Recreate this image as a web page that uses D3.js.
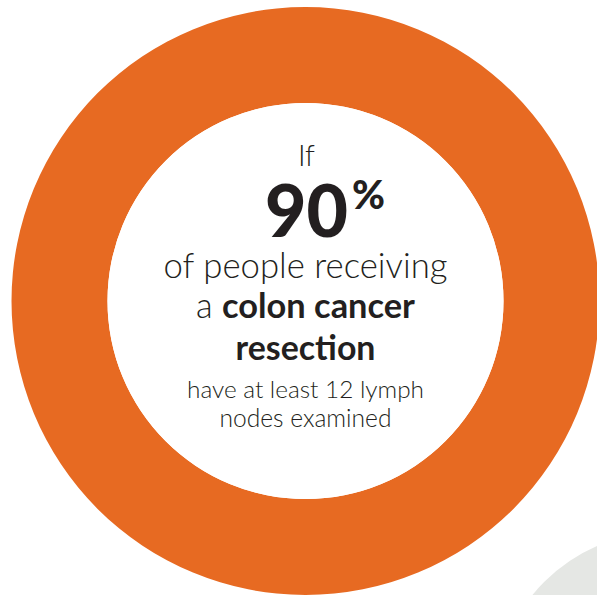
<!DOCTYPE html>
<html><head><meta charset="utf-8">
<script src="https://cdn.jsdelivr.net/npm/d3@7"></script>
<style>html,body{margin:0;padding:0;background:#fff;}svg{display:block;}</style>
</head><body>
<svg id="c" width="597" height="595"></svg>
<script>
const ringShares = [100];
const percentValue = 90;
const introText = "If";
const line1 = "of people receiving";
const line2Light = "a ";
const line2Bold = "colon cancer";
const line3Bold = "resection";
const line4 = "have at least 12 lymph";
const line5 = "nodes examined";

const svg = d3.select("#c");
const cx = 305.5, cy = 301;
const outerR = 294, innerR = 198;

// decorative gray circle bottom right
svg.append("circle").attr("cx", 665).attr("cy", 703).attr("r", 171).attr("fill", "#e5e7e4");

const pie = d3.pie().sort(null)(ringShares);
const arc = d3.arc().innerRadius(innerR).outerRadius(outerR);
const g = svg.append("g").attr("transform", `translate(${cx},${cy})`);
g.selectAll("path").data(pie).join("path").attr("d", arc).attr("fill", "#e76a22");
g.append("circle").attr("r", innerR).attr("fill", "#fff");

const txt = "#231f20";
const font = "Lato, 'Open Sans', sans-serif";
function fitText(sel, w) {
  const n = sel.node();
  const cur = n.getComputedTextLength();
  const fs = parseFloat(sel.attr("font-size"));
  sel.attr("font-size", fs * w / cur);
}

svg.append("text").attr("x", 306.5).attr("y", 166).attr("text-anchor", "middle")
  .attr("font-family", font).attr("font-weight", 300).attr("font-size", 29).attr("fill", txt).text(introText);

const big = svg.append("text").attr("x", 265).attr("y", 237).attr("font-family", font).attr("fill", txt)
  .attr("font-weight", 900).attr("font-size", 76).text(percentValue);
fitText(big, 83);
const pct = svg.append("text").attr("x", 352).attr("y", 209).attr("font-family", font).attr("fill", txt)
  .attr("font-weight", 900).attr("font-size", 44).text("%");
fitText(pct, 33);

const t1 = svg.append("text").attr("x", cx).attr("y", 278).attr("text-anchor", "middle")
  .attr("font-family", font).attr("font-weight", 300).attr("font-size", 34).attr("fill", txt).text(line1);
fitText(t1, 284);

const t2 = svg.append("text").attr("x", cx).attr("y", 318).attr("text-anchor", "middle")
  .attr("font-family", font).attr("font-size", 32).attr("fill", txt);
t2.append("tspan").attr("font-weight", 300).text(line2Light);
t2.append("tspan").attr("font-weight", 700).text(line2Bold);
fitText(t2, 219);

const t3 = svg.append("text").attr("x", cx).attr("y", 360).attr("text-anchor", "middle")
  .attr("font-family", font).attr("font-weight", 700).attr("font-size", 32).attr("fill", txt).text(line3Bold);
fitText(t3, 140);

const t4 = svg.append("text").attr("x", cx).attr("y", 398).attr("text-anchor", "middle")
  .attr("font-family", font).attr("font-weight", 300).attr("font-size", 24).attr("fill", txt).text(line4);
fitText(t4, 237);

const t5 = svg.append("text").attr("x", cx).attr("y", 426.5).attr("text-anchor", "middle")
  .attr("font-family", font).attr("font-weight", 300).attr("font-size", 24).attr("fill", txt).text(line5);
fitText(t5, 172);
</script>
</body></html>
